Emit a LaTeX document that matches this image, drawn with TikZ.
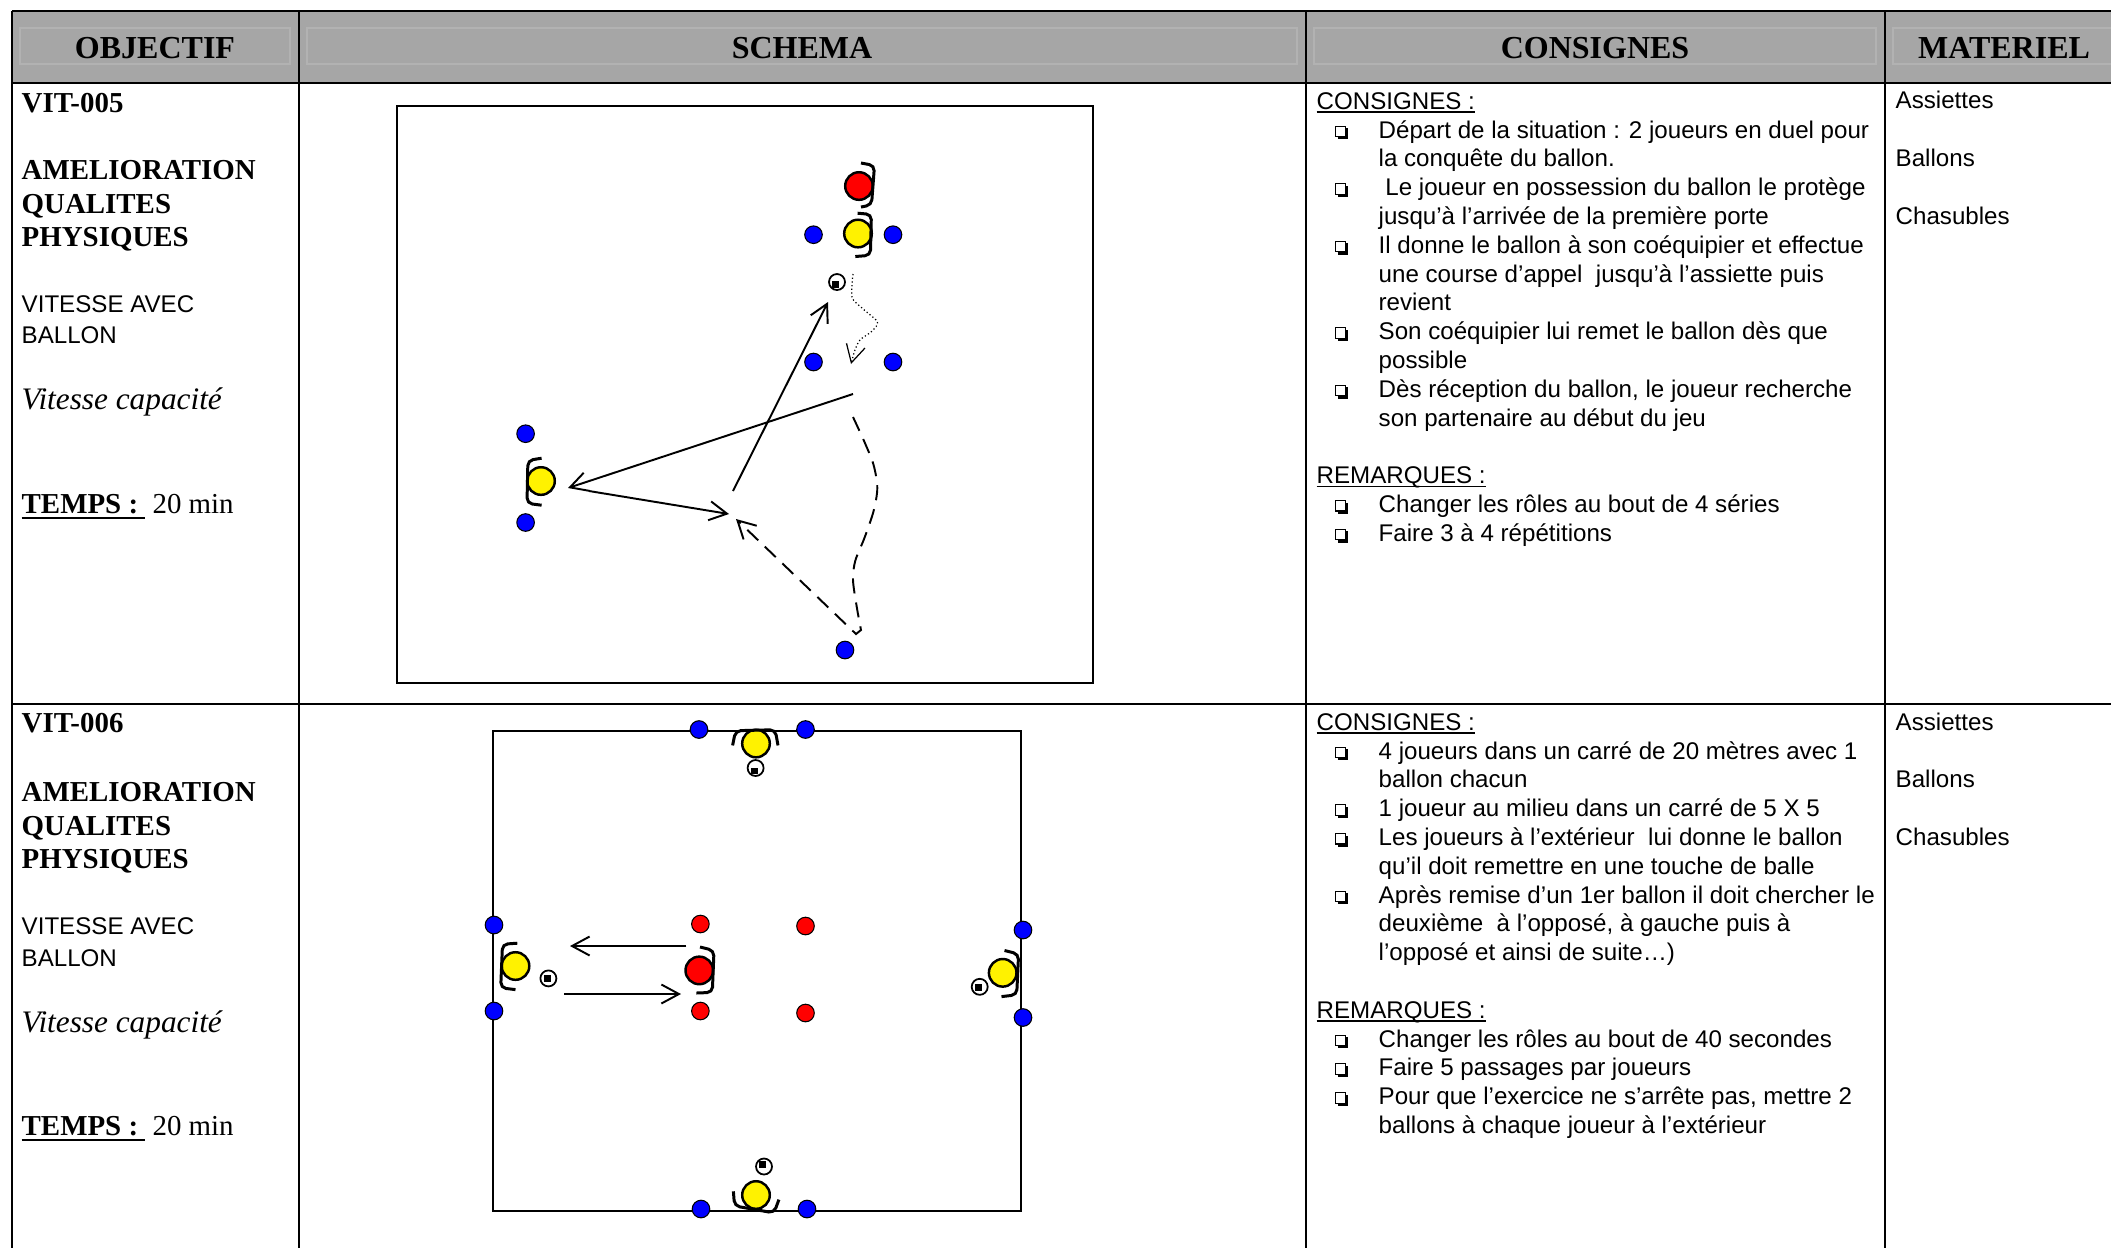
\documentclass[tikz,border=0pt]{standalone}
\usepackage{fontspec}
\setmainfont{Liberation Serif}
\setsansfont{Liberation Sans}
\usetikzlibrary{arrows.meta}
\definecolor{headgray}{RGB}{166,166,166}
\definecolor{insetgray}{RGB}{178,178,178}
\newsavebox\ulBox
\def\ulSans#1{\sbox\ulBox{#1}\rlap{\vrule height -0.55pt depth 0.98pt width \wd\ulBox}\usebox\ulBox}
\def\ulBold#1{\sbox\ulBox{#1}\rlap{\vrule height -1.1pt depth 1.67pt width \wd\ulBox}\usebox\ulBox}
\def \objectifStr {OBJECTIF}
\def \schemaStr {SCHEMA}
\def \consignesHeadStr {CONSIGNES}
\def \materielStr {MATERIEL}
\def \ameliorationStr {AMELIORATION}
\def \qualitesStr {QUALITES}
\def \physiquesStr {PHYSIQUES}
\def \vitesseAvecStr {VITESSE AVEC}
\def \ballonStr {BALLON}
\def \vitesseCapaciteStr {Vitesse capacité}
\def \tempsStr {TEMPS :}
\def \dureeStr {20 min}
\def \consignesStr {CONSIGNES :}
\def \remarquesStr {REMARQUES :}
\def \assiettesStr {Assiettes}
\def \ballonsStr {Ballons}
\def \chasublesStr {Chasubles}
\def \playerRadius {13.8}
\def \coneRadius {8.8}
\def \ballRadius {8}

\begin{document}
\begin{tikzpicture}[x=0.01cm, y=-0.01cm,
  >={Straight Barb[length=5pt,width=5.4pt]},
  tableline/.style={line width=0.6pt},
  headinset/.style={draw=insetgray, line width=0.3pt},
  headtext/.style={anchor=base, inner sep=0, font=\fontsize{9.1}{11}\selectfont\bfseries},
  boldtext/.style={anchor=base west, inner sep=0, font=\fontsize{8.22}{10}\selectfont\bfseries},
  seriftext/.style={anchor=base west, inner sep=0, font=\fontsize{8.22}{10}\selectfont},
  itext/.style={anchor=base west, inner sep=0, font=\fontsize{8.9}{10}\selectfont\itshape},
  mytext/.style={anchor=base west, inner sep=0, font=\fontsize{6.86}{8}\selectfont\sffamily},
  qbox/.style={line width=0.3pt},
  qshadow/.style={line width=0.7pt},
  field/.style={line width=0.55pt},
  cone/.style={draw=black, fill=blue, line width=0.3pt},
  player/.style={draw=black, line width=0.7pt},
  shoulder/.style={line width=0.85pt, rounded corners=1.5pt},
  ball/.style={draw=black, fill=white, line width=0.5pt},
  pass/.style={->, line width=0.55pt},
  run/.style={->, line width=0.55pt, dash pattern=on 4.3pt off 2.6pt},
  dribble/.style={->, line width=0.35pt, dash pattern=on 0.35pt off 0.7pt}]

\useasboundingbox (0,0) rectangle (2111,1247);
\clip (0,0) rectangle (2111,1247);

% table
\fill[headgray] (12,11) rectangle (2120,83);
\draw[headinset] (20,28) rectangle (290,64);
\draw[headinset] (307,28) rectangle (1297,64);
\draw[headinset] (1314,28) rectangle (1876,64);
\draw[headinset] (1893,28) rectangle (2130,64);
\draw[tableline] (12,11) -- (2120,11);
\draw[tableline] (12,83) -- (2120,83);
\draw[tableline] (12,704) -- (2120,704);
\foreach \x in {12,299,1306,1885}
  \draw[tableline] (\x,11) -- (\x,1260);

\node[headtext] (hObj) at (155,58) {\objectifStr};
\node[headtext] (hSch) at (802,58) {\schemaStr};
\node[headtext] (hCons) at (1595,58) {\consignesHeadStr};
\node[headtext] (hMat) at (2004,58) {\materielStr};

% objectif VIT-005
\node[boldtext] (vit5) at (21,112) {VIT-005};
\node[boldtext] (amel5) at (21,179) {\ameliorationStr};
\node[boldtext] (qual5) at (21,213) {\qualitesStr};
\node[boldtext] (phys5) at (21,246) {\physiquesStr};
\node[mytext] (vav5) at (21,312) {\vitesseAvecStr};
\node[mytext] (bal5) at (21,343) {\ballonStr};
\node[itext] (cap5) at (21,409) {\vitesseCapaciteStr};
\node[seriftext] (temps5) at (21,513) {\ulBold{\textbf{\tempsStr}\ }\ \dureeStr};

% objectif VIT-006
\node[boldtext] (vit6) at (21,732) {VIT-006};
\node[boldtext] (amel6) at (21,801) {\ameliorationStr};
\node[boldtext] (qual6) at (21,835) {\qualitesStr};
\node[boldtext] (phys6) at (21,868) {\physiquesStr};
\node[mytext] (vav6) at (21,934) {\vitesseAvecStr};
\node[mytext] (bal6) at (21,966) {\ballonStr};
\node[itext] (cap6) at (21,1032) {\vitesseCapaciteStr};
\node[seriftext] (temps6) at (21,1135) {\ulBold{\textbf{\tempsStr}\ }\ \dureeStr};

% consignes VIT-005
\node[mytext] (cons5) at (1316,109.3) {\ulSans{\consignesStr}};
\node[mytext] (c5a) at (1378,138.1) {Départ de la situation : 2 joueurs en duel pour};
\node[mytext] (c5b) at (1378,166.9) {la conquête du ballon.};
\node[mytext] (c5c) at (1378,195.7) {\ Le joueur en possession du ballon le protège};
\node[mytext] (c5d) at (1378,224.5) {jusqu’à l’arrivée de la première porte};
\node[mytext] (c5e) at (1378,253.3) {Il donne le ballon à son coéquipier et effectue};
\node[mytext] (c5f) at (1378,282.1) {une course d’appel~ jusqu’à l’assiette puis};
\node[mytext] (c5g) at (1378,310.9) {revient};
\node[mytext] (c5h) at (1378,339.7) {Son coéquipier lui remet le ballon dès que};
\node[mytext] (c5i) at (1378,368.5) {possible};
\node[mytext] (c5j) at (1378,397.3) {Dès réception du ballon, le joueur recherche};
\node[mytext] (c5k) at (1378,426.1) {son partenaire au début du jeu};
\node[mytext] (rem5) at (1316,483.7) {\ulSans{\remarquesStr}};
\node[mytext] (r5a) at (1378,512.5) {Changer les rôles au bout de 4 séries};
\node[mytext] (r5b) at (1378,541.3) {Faire 3 à 4 répétitions};

% consignes VIT-006
\node[mytext] (cons6) at (1316,730.3) {\ulSans{\consignesStr}};
\node[mytext] (c6a) at (1378,759.1) {4 joueurs dans un carré de 20 mètres avec 1};
\node[mytext] (c6b) at (1378,787.9) {ballon chacun};
\node[mytext] (c6c) at (1378,816.7) {1 joueur au milieu dans un carré de 5 X 5};
\node[mytext] (c6d) at (1378,845.5) {Les joueurs à l’extérieur~ lui donne le ballon};
\node[mytext] (c6e) at (1378,874.3) {qu’il doit remettre en une touche de balle};
\node[mytext] (c6f) at (1378,903.1) {Après remise d’un 1er ballon il doit chercher le};
\node[mytext] (c6g) at (1378,931.9) {deuxième~ à l’opposé, à gauche puis à};
\node[mytext] (c6h) at (1378,960.7) {l’opposé et ainsi de suite…)};
\node[mytext] (rem6) at (1316,1018.3) {\ulSans{\remarquesStr}};
\node[mytext] (r6a) at (1378,1047.1) {Changer les rôles au bout de 40 secondes};
\node[mytext] (r6b) at (1378,1075.9) {Faire 5 passages par joueurs};
\node[mytext] (r6c) at (1378,1104.7) {Pour que l’exercice ne s’arrête pas, mettre 2};
\node[mytext] (r6d) at (1378,1133.5) {ballons à chaque joueur à l’extérieur};

% bullets
\foreach \y in {138.1,195.7,253.3,339.7,397.3,512.5,541.3,759.1,816.7,845.5,903.1,1047.1,1075.9,1104.7} {
  \draw[qbox] (1335.5,\y-12) rectangle (1345.5,\y-1.5);
  \draw[qshadow] (1337.5,\y) -- (1347,\y) -- (1347,\y-10);
}

% materiel
\node[mytext] (ass5) at (1895,108.3) {\assiettesStr};
\node[mytext] (bals5) at (1895,166.9) {\ballonsStr};
\node[mytext] (chas5) at (1895,224.5) {\chasublesStr};
\node[mytext] (ass6) at (1895,730.3) {\assiettesStr};
\node[mytext] (bals6) at (1895,787.9) {\ballonsStr};
\node[mytext] (chas6) at (1895,845.5) {\chasublesStr};

% schema VIT-005
\draw[field] (397,106) rectangle (1093,683);
\draw[cone] (813.5,234.7) circle (\coneRadius);
\draw[cone] (893,234.7) circle (\coneRadius);
\draw[cone] (813.5,362) circle (\coneRadius);
\draw[cone] (893,362) circle (\coneRadius);
\draw[cone] (525.6,433.7) circle (\coneRadius);
\draw[cone] (525.6,522.5) circle (\coneRadius);
\draw[cone] (845,650) circle (\coneRadius);

\draw[player, fill=red] (859,186) circle (\playerRadius);
\draw[shoulder] (861,163) -- (874.5,165.5) -- (871.5,205) -- (861,207);
\draw[player, fill=yellow] (858,233.5) circle (\playerRadius);
\draw[shoulder] (857.6,213.2) -- (871.4,214.4) -- (870.4,255.3) -- (855.3,256.5);
\draw[player, fill=yellow] (541,481) circle (\playerRadius);
\draw[shoulder] (541.6,458.2) -- (527.9,460.4) -- (527,503.3) -- (541.6,505.2);

\draw[ball] (837,282) circle (\ballRadius);
\fill (832,281) rectangle (838.5,287.5);

\coordinate (dribA) at (851,364);
\draw[dribble] plot[smooth] coordinates {(853,274) (852,297) (862,308) (876,320) (877,325) (871,332) (860,340) (855,350) (dribA)};

\coordinate (passA) at (853,394);
\coordinate (passB) at (568,488);
\coordinate (passC) at (589,491);
\coordinate (passD) at (729,514);
\coordinate (passE) at (733,491);
\coordinate (passF) at (828,302);
\draw[pass] (passA) -- (passB);
\draw[pass] (passC) -- (passD);
\draw[pass] (passE) -- (passF);

\coordinate (runA) at (853,417);
\coordinate (runB) at (736,519);
\draw[run] plot[smooth] coordinates {(runA) (864.5,442) (873.6,465) (877.3,488) (873.6,511) (864.5,537.8) (855.3,560.7) (853,580) (856.7,606.6) (861,630)} -- (856,634) -- (runB);

% schema VIT-006
\draw[field] (493,731) rectangle (1021,1211);
\draw[cone] (699,729.5) circle (\coneRadius);
\draw[cone] (805.5,729.5) circle (\coneRadius);
\draw[cone] (701,1209) circle (\coneRadius);
\draw[cone] (807,1209) circle (\coneRadius);
\draw[cone] (494,925) circle (\coneRadius);
\draw[cone] (494,1011) circle (\coneRadius);
\draw[cone] (1023,930) circle (\coneRadius);
\draw[cone] (1023,1017.5) circle (\coneRadius);
\draw[cone, fill=red] (700.4,924) circle (\coneRadius);
\draw[cone, fill=red] (805.5,926) circle (\coneRadius);
\draw[cone, fill=red] (700.4,1011) circle (\coneRadius);
\draw[cone, fill=red] (805.5,1013) circle (\coneRadius);

\draw[player, fill=yellow] (756,743.5) circle (\playerRadius);
\draw[shoulder] (732.6,745.4) -- (735.6,730.7) -- (775.2,729.7) -- (778,745.4);
\draw[player, fill=yellow] (756,1195) circle (\playerRadius);
\draw[shoulder] (733.4,1191.3) -- (734.5,1205.9) -- (774,1212.9) -- (778.9,1199.6);
\draw[player, fill=yellow] (515.5,966) circle (\playerRadius);
\draw[shoulder] (517.3,943.2) -- (502.5,944.2) -- (500.7,987.8) -- (515.5,989.6);
\draw[player, fill=yellow] (1002.7,972.8) circle (\playerRadius);
\draw[shoulder] (1004.5,950.5) -- (1018.6,954) -- (1016.7,994.8) -- (1001.5,996.6);
\draw[player, fill=red] (699.3,970.4) circle (\playerRadius);
\draw[shoulder] (700,947) -- (714,950.5) -- (712.3,992.4) -- (696.4,993);

\draw[ball] (755.6,768) circle (\ballRadius);
\fill (751,767.5) rectangle (757.5,774);
\draw[ball] (764,1166.5) circle (\ballRadius);
\fill (759,1161) rectangle (765.5,1167.5);
\draw[ball] (548.4,978.4) circle (\ballRadius);
\fill (544,975) rectangle (550.5,981.5);
\draw[ball] (979.7,986.8) circle (\ballRadius);
\fill (975,984) rectangle (981.5,990.5);

\coordinate (backA) at (686.4,946);
\coordinate (backB) at (570,946);
\coordinate (giveA) at (564,994);
\coordinate (giveB) at (681,994);
\draw[pass] (backA) -- (backB);
\draw[pass] (giveA) -- (giveB);

\end{tikzpicture}
\end{document}
